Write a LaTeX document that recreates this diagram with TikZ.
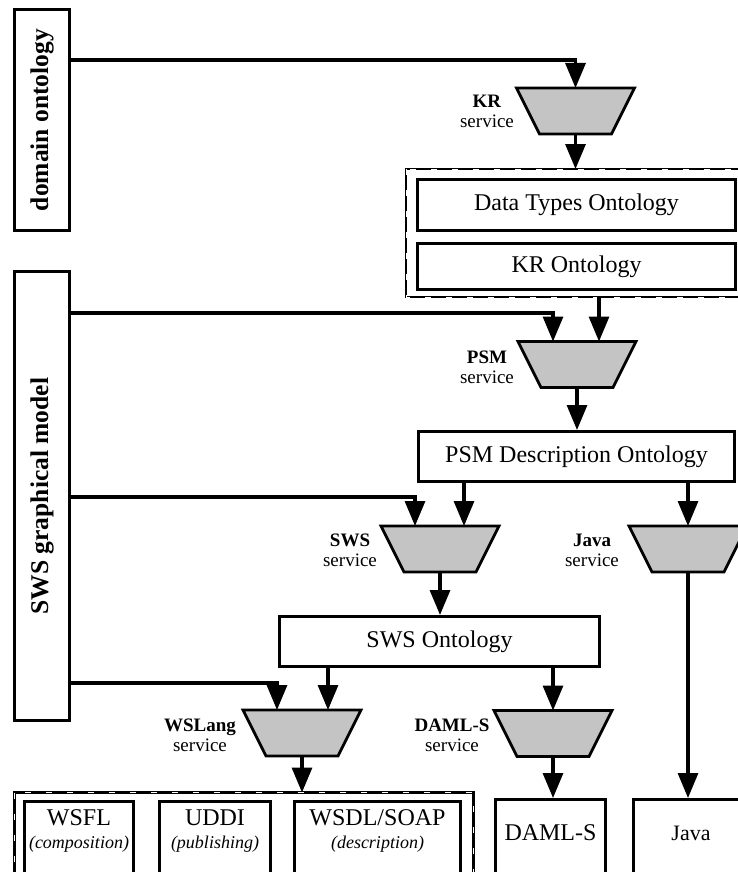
\documentclass[tikz,border=0pt]{standalone}
\usepackage{fontspec}
\setmainfont{Liberation Serif}
\usetikzlibrary{arrows.meta,calc}
\definecolor{trapgray}{RGB}{196,196,196}
% grey trapezium drawn on the frame of a service node
\newcommand\servicetrap[1]{%
  \filldraw[trapline] (#1.north west) -- (#1.north east)
    -- ([xshift=-23pt]#1.south east) -- ([xshift=23pt]#1.south west) -- cycle;}
% broken outline of a grouping frame
\newcommand\groupticks[1]{%
  \draw[white, line width=0.8pt, dash pattern=on 6pt off 15pt]
    (#1.north west) rectangle (#1.south east);}
% smaller italic second line in the language boxes
\newcommand\rolefont{\itshape\fontsize{18}{18}\selectfont}
\begin{document}
\begin{tikzpicture}[x=1pt,y=-1pt,
  box/.style={draw, line width=3pt, fill=white, inner sep=0pt, align=center,
    font=\fontsize{24}{26}\selectfont},
  sidebox/.style={draw, line width=3pt, inner sep=0pt, rotate=90,
    font=\bfseries\fontsize{25.5}{27}\selectfont},
  svc/.style={inner sep=0pt, outer sep=0pt, minimum width=118pt, minimum height=46pt},
  trapline/.style={draw=black, fill=trapgray, line width=2.8pt, line join=miter},
  lbl/.style={align=center, inner sep=0pt, font=\fontsize{19}{20}\selectfont},
  grp/.style={draw, line width=2.6pt, inner sep=0pt, outer sep=0pt},
  txt/.style={align=center, inner sep=0pt, font=\fontsize{24}{24}\selectfont},
  arr/.style={line width=3.2pt, -{Triangle[width=20pt,length=25pt]}},
]
\useasboundingbox (0,0) rectangle (738,872);
\clip (0,0) rectangle (738,872);

% side panels (rotated: their south anchor lies on the right-hand side)
\node[sidebox, minimum width=221pt, minimum height=55pt] (dom) at (42,120) {domain ontology};
\node[sidebox, minimum width=449pt, minimum height=55pt] (sws) at (42,496) {SWS graphical model};

% grouping frames
\node[grp, minimum width=339pt, minimum height=128pt] (grp1) at (575.5,233) {};
\groupticks{grp1}
\node[grp, minimum width=459pt, minimum height=95pt] (grp2) at (244,840) {};
\groupticks{grp2}

% ontologies
\node[box, minimum width=318pt, minimum height=51pt] (dt) at (576.5,205) {Data Types Ontology};
\node[box, minimum width=318pt, minimum height=46pt] (kro) at (576.5,266.5) {KR Ontology};
\node[box, minimum width=316pt, minimum height=50pt] (psmd) at (576.5,456.5) {PSM Description Ontology};
\node[box, minimum width=320pt, minimum height=50pt] (swso) at (439.5,641.5) {SWS Ontology};

% target language boxes (open towards the lower edge)
\node[box, minimum width=109pt, minimum height=84pt] (wsfl) at (79,843.5) {};
\node[box, minimum width=111pt, minimum height=84pt] (uddi) at (215,843.5) {};
\node[box, minimum width=166pt, minimum height=84pt] (wsdl) at (377.5,843.5) {};
\node[box, minimum width=110pt, minimum height=86pt] (damlbox) at (550.5,842.5) {};
\node[box, minimum width=115pt, minimum height=86pt] (javabox) at (691,842.5) {};
\node[txt] (wsflt) at (79,831) {WSFL\\[-1pt]{\rolefont (composition)}};
\node[txt] (uddit) at (215,831) {UDDI\\[-1pt]{\rolefont (publishing)}};
\node[txt] (wsdlt) at (377.5,831) {WSDL/SOAP\\[-1pt]{\rolefont (description)}};
\node[txt] (damlt) at (550.5,833) {DAML-S};
\node[txt, font=\fontsize{22}{24}\selectfont] (javat) at (691,833) {Java};

% services
\node[svc] (kr) at (575.5,111) {};
\node[svc] (psm) at (577,364.5) {};
\node[svc] (swss) at (440,549) {};
\node[svc] (javas) at (688,549) {};
\node[svc] (wsl) at (302,733) {};
\node[svc] (dams) at (553,733.5) {};
\servicetrap{kr}
\servicetrap{psm}
\servicetrap{swss}
\servicetrap{javas}
\servicetrap{wsl}
\servicetrap{dams}

\node[lbl] (krl) at (487,111) {\textbf{KR}\\service};
\node[lbl] (psml) at (487,367) {\textbf{PSM}\\service};
\node[lbl] (swsl) at (350,550) {\textbf{SWS}\\service};
\node[lbl] (javal) at (592,550) {\textbf{Java}\\service};
\node[lbl] (wsll) at (200,735) {\textbf{WSLang}\\service};
\node[lbl] (daml) at (452,735) {\textbf{DAML-S}\\service};

% connectors
\draw[arr] ($(dom.south)+(0,-60)$) -| (kr.north);
\draw[arr] (kr.south) -- (kr.south |- grp1.north);
\draw[arr] ($(sws.south)+(0,-183)$) -| ([xshift=-24pt]psm.north);
\draw[arr] ([xshift=22pt]psm.north |- grp1.south) -- ([xshift=22pt]psm.north);
\draw[arr] (psm.south) -- (psm.south |- psmd.north);
\draw[arr] ($(sws.south)+(0,1)$) -| ([xshift=-25pt]swss.north);
\draw[arr] ([xshift=24pt]swss.north |- psmd.south) -- ([xshift=24pt]swss.north);
\draw[arr] (javas.north |- psmd.south) -- (javas.north);
\draw[arr] (swss.south) -- (swss.south |- swso.north);
\draw[arr] ($(sws.south)+(0,187)$) -| ([xshift=-25pt]wsl.north);
\draw[arr] ([xshift=26pt]wsl.north |- swso.south) -- ([xshift=26pt]wsl.north);
\draw[arr] (dams.north |- swso.south) -- (dams.north);
\draw[arr] (wsl.south) -- (wsl.south |- grp2.north);
\draw[arr] (dams.south) -- (dams.south |- damlbox.north);
\draw[arr] (javas.south) -- (javas.south |- javabox.north);
\end{tikzpicture}
\end{document}
